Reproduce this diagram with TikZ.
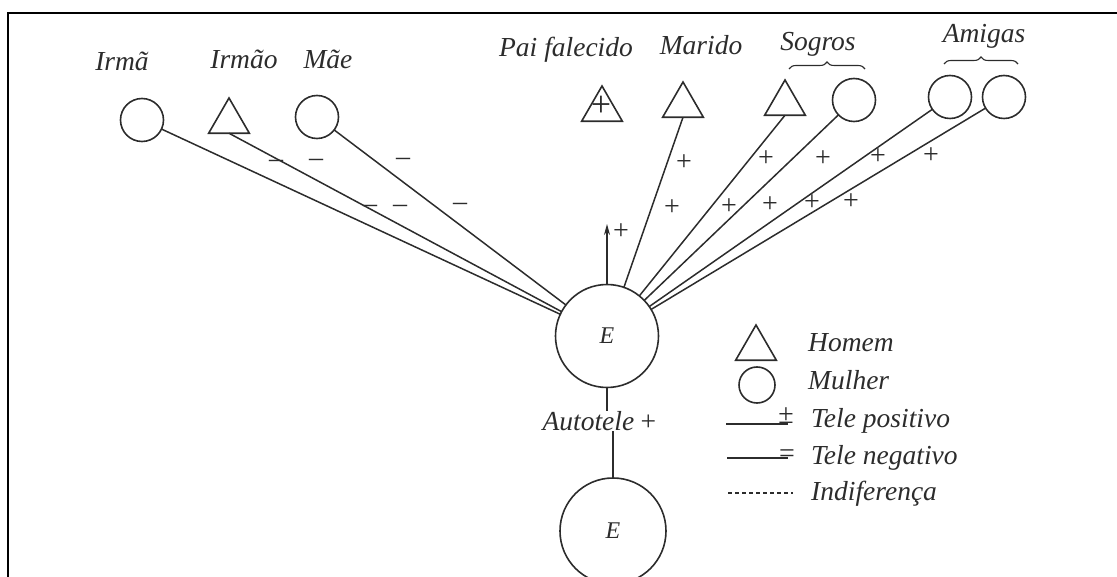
\documentclass[tikz,border=0pt]{standalone}
\usepackage{fontspec}
\setmainfont{Liberation Serif}
\usetikzlibrary{shapes.geometric,arrows.meta,decorations.pathreplacing}
\definecolor{ink}{HTML}{2C2C2C}
\tikzset{
  person/.style={draw=ink, line width=1.6pt, inner sep=0pt, outer sep=0pt},
  woman/.style={person, circle, minimum size=43pt},
  man/.style={person, regular polygon, regular polygon sides=3, minimum size=47pt},
  ego/.style={person, circle, minimum size=103pt, font=\itshape\fontsize{24}{24}\selectfont, text=ink},
  lab/.style={font=\itshape\fontsize{27.5}{30}\selectfont, text=ink, anchor=base, inner sep=0pt},
  leglab/.style={lab, anchor=base west},
  sign/.style={font=\fontsize{28}{28}\selectfont, text=ink, inner sep=0pt},
  tie/.style={draw=ink, line width=1.5pt},
  bracket/.style={draw=ink, line width=1.1pt, decorate, decoration={brace, amplitude=7pt}},
}
\begin{document}
\begin{tikzpicture}[x=1pt, y=-1pt]
\useasboundingbox (0,0) rectangle (1117,577);
\clip (0,0) rectangle (1117,577);
% frame
\draw[black, line width=1.6pt] (8,590) -- (8,13) -- (1120,13);

% people
\node[woman] (irma) at (142,120) {};
\node[man] (irmao) at (229,121.5) {};
\node[woman] (mae) at (317,117) {};
\node[man] (pai) at (602,109.5) {};
\node[sign, font=\fontsize{36}{36}\selectfont] (paicross) at (601,106) {+};
\node[man] (marido) at (683,105.5) {};
\node[man] (sogro) at (785,103.5) {};
\node[woman] (sogra) at (854,100) {};
\node[woman] (amiga1) at (950,97) {};
\node[woman] (amiga2) at (1004,97) {};

% labels
\node[lab] (lirma) at (122,71) {Irmã};
\node[lab] (lirmao) at (244,69) {Irmão};
\node[lab] (lmae) at (328,69) {Mãe};
\node[lab] (lpai) at (566,57) {Pai falecido};
\node[lab] (lmarido) at (701,55) {Marido};
\node[lab] (lsogros) at (818,51) {Sogros};
\node[lab] (lamigas) at (984,43) {Amigas};

% braces
\coordinate (sb1) at (789,69);
\coordinate (sb2) at (865,69);
\coordinate (ab1) at (944,64);
\coordinate (ab2) at (1018,64);
\draw[bracket] (sb1) -- (sb2);
\draw[bracket] (ab1) -- (ab2);

% ego nodes
\node[ego] (E1) at (607,336) {E};
\node[ego, minimum size=106pt] (E2) at (613,531) {E};
\node[lab] (auto) at (600,430) {Autotele\,+};
\draw[tie] (E1.south) -- (E1.south |- auto.north);
\draw[tie] (E2.north) -- (E2.north |- auto.south);

% connectors
\draw[tie] (irma) -- (E1);
\draw[tie] (irmao.side 2) -- (E1);
\draw[tie] (mae) -- (E1);
\draw[tie] (marido.side 2) -- (E1);
\draw[tie] (sogro.side 2) -- (E1);
\draw[tie] (sogra) -- (E1);
\draw[tie] (amiga1) -- (E1);
\draw[tie] (amiga2) -- (E1);
\coordinate (arrtip) at (607,224);
\draw[tie, -{Stealth[length=11pt, width=6pt]}] (E1.north) -- (arrtip);

% signs
\node[sign] (m1) at (276,164) {–};
\node[sign] (m2) at (316,163) {–};
\node[sign] (m3) at (403,162) {–};
\node[sign] (m4) at (370,209) {–};
\node[sign] (m5) at (400,209) {–};
\node[sign] (m6) at (460,207) {–};
\node[sign] (p0) at (621,232) {+};
\node[sign] (p1) at (684,163) {+};
\node[sign] (p2) at (672,208) {+};
\node[sign] (p3) at (766,159) {+};
\node[sign] (p4) at (823,159) {+};
\node[sign] (p5) at (878,157) {+};
\node[sign] (p6) at (931,156) {+};
\node[sign] (p7) at (729,207) {+};
\node[sign] (p8) at (770,205) {+};
\node[sign] (p9) at (812,203) {+};
\node[sign] (p10) at (851,202) {+};

% legend
\node[man] (legman) at (756,348.5) {};
\node[person, circle, minimum size=36pt] (legwoman) at (757,385) {};
\node[leglab] (lhomem) at (808,352) {Homem};
\node[leglab] (lmulher) at (808,390) {Mulher};
\node[leglab] (lpos) at (811,427) {Tele positivo};
\node[leglab] (lneg) at (811,464) {Tele negativo};
\node[leglab] (lind) at (811,500) {Indiferença};
\draw[tie] (726,424) -- (788,424);
\node[sign, anchor=base] (pm) at (786,424) {±};
\draw[tie] (727,458) -- (788,458);
\node[sign, anchor=base] (eq) at (787,462) {=};
\draw[tie, line width=1.1pt, dash pattern=on 4pt off 3pt] (728,493) -- (793,493);
\end{tikzpicture}
\end{document}
